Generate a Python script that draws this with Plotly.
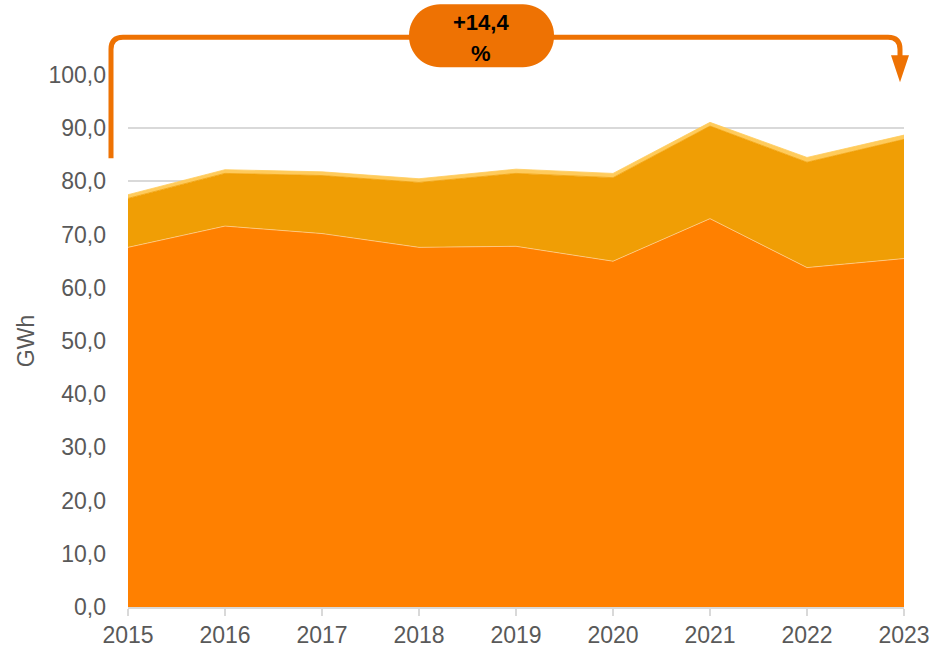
import plotly.graph_objects as go

# ---------------------------------------------------------------------------
# Data (GWh)
# ---------------------------------------------------------------------------
years = ["2015", "2016", "2017", "2018", "2019", "2020", "2021", "2022", "2023"]
base_gwh = [67.6, 71.6, 70.2, 67.6, 67.8, 65.0, 73.0, 63.8, 65.5]
mid_gwh = [9.2, 9.9, 10.9, 12.2, 13.7, 15.7, 17.4, 19.8, 22.4]
top_gwh = [0.7, 0.7, 0.7, 0.7, 0.8, 0.8, 0.7, 0.9, 0.8]
y_ticks = [0, 10, 20, 30, 40, 50, 60, 70, 80, 90, 100]
change_label = "+14,4"

ORANGE = "#EE7203"
FONT = "Liberation Sans"

fig = go.Figure()
layers = [
    (base_gwh, "#FF8000", "rgba(255,210,150,0.9)"),
    (mid_gwh, "#F09E05", "#F09E05"),
    (top_gwh, "#FFCB5C", "#FFCB5C"),
]
for vals, fill, line in layers:
    fig.add_trace(go.Scatter(
        x=years, y=vals, mode="lines", stackgroup="gwh",
        fillcolor=fill, line=dict(color=line, width=0.8),
        hoverinfo="skip", showlegend=False,
    ))

# ---------------------------------------------------------------------------
# Bracket + arrow + badge (paper coordinates, from pixel positions)
# ---------------------------------------------------------------------------
FIG_W, FIG_H = 931, 651
L, T, W, H = 128, 74.7, 776, 532.0


def px(x):
    return (x - L) / W


def py(y):
    return (T + H - y) / H


r = 12
path = (
    f"M {px(111)},{py(158)} L {px(111)},{py(37 + r)} "
    f"Q {px(111)},{py(37)} {px(111 + r)},{py(37)} "
    f"L {px(900 - r)},{py(37)} "
    f"Q {px(900)},{py(37)} {px(900)},{py(37 + r)} "
    f"L {px(900)},{py(60)}"
)
arrow = f"M {px(891)},{py(55)} L {px(909)},{py(55)} L {px(900)},{py(82)} Z"
br = 31
k = br * 0.45
badge = (
    f"M {px(409 + br)},{py(4)} L {px(554 - br)},{py(4)} "
    f"C {px(554 - k)},{py(4)} {px(554)},{py(4 + k)} {px(554)},{py(4 + br)} "
    f"L {px(554)},{py(67 - br)} "
    f"C {px(554)},{py(67 - k)} {px(554 - k)},{py(67)} {px(554 - br)},{py(67)} "
    f"L {px(409 + br)},{py(67)} "
    f"C {px(409 + k)},{py(67)} {px(409)},{py(67 - k)} {px(409)},{py(67 - br)} "
    f"L {px(409)},{py(4 + br)} "
    f"C {px(409)},{py(4 + k)} {px(409 + k)},{py(4)} {px(409 + br)},{py(4)} Z"
)
fig.add_shape(type="path", path=path, xref="paper", yref="paper",
              line=dict(color=ORANGE, width=5))
fig.add_shape(type="path", path=arrow, xref="paper", yref="paper",
              line=dict(color=ORANGE, width=0), fillcolor=ORANGE)
fig.add_shape(type="path", path=badge, xref="paper", yref="paper",
              line=dict(color=ORANGE, width=0), fillcolor=ORANGE)

badge_font = dict(family=FONT, size=22, color="#000")
for text, ypix in [(f"<b>{change_label}</b>", 22), ("<b>%</b>", 53)]:
    fig.add_annotation(x=px(481), y=py(ypix), xref="paper", yref="paper",
                       xanchor="center", yanchor="middle",
                       text=text, showarrow=False, font=badge_font)

fig.update_layout(
    width=FIG_W, height=FIG_H,
    margin=dict(l=L, r=FIG_W - L - W, t=T, b=FIG_H - T - H, autoexpand=False),
    paper_bgcolor="white", plot_bgcolor="white",
    font=dict(family=FONT, size=23, color="#595959"),
    separators=",.",
    xaxis=dict(
        type="category", range=[0, len(years) - 1], showgrid=False,
        showline=True, linecolor="#D9D9D9", linewidth=1.5,
        ticks="outside", tickcolor="#D9D9D9", ticklen=7, tickwidth=1.5,
        tickfont=dict(size=23), zeroline=False, automargin=False,
    ),
    yaxis=dict(
        range=[0, 100], tickvals=y_ticks, tickformat=".1f",
        showgrid=True, gridcolor="#D9D9D9", gridwidth=1.5,
        zeroline=False, ticks="", ticklabelstandoff=21, automargin=False,
        title=dict(text="GWh", font=dict(size=23), standoff=7),
    ),
)

# drop the default 8px page margin so the figure fills the window exactly
fig.write_html(
    "out.html",
    config={"displayModeBar": False},
    post_script="document.body.style.margin='0';document.body.style.overflow='hidden';",
)
